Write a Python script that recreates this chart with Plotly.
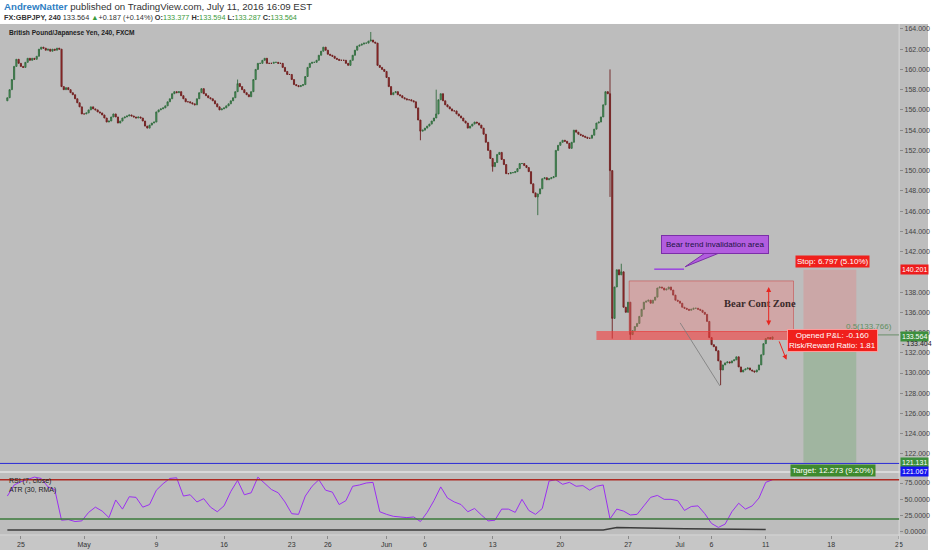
import plotly.graph_objects as go

# GBPJPY 4h closes, one row per trading day (Apr 22 .. Jul 11 2016)
closes = [
    157.2, 158.0, 159.0, 160.3, 161.0, 160.6,
    160.3, 160.2, 160.7, 161.1, 160.9, 161.1,
    161.0, 161.3, 162.0, 162.2, 162.1, 161.9,
    162.0, 161.8, 162.0, 161.9, 162.1, 162.0,
    158.3, 158.0, 158.2, 158.0, 157.7, 157.5,
    157.1, 156.7, 156.3, 155.6, 155.6, 155.7,
    156.0, 156.3, 156.1, 156.0, 155.8, 155.7,
    155.5, 155.2, 154.8, 154.9, 155.3, 155.6,
    155.3, 154.7, 154.9, 155.2, 155.3, 155.4,
    155.5, 155.4, 155.3, 155.2, 155.3, 155.2,
    154.9, 154.4, 154.2, 154.5, 154.7, 154.8,
    155.8, 156.0, 156.1, 156.2, 156.4, 156.8,
    157.1, 157.6, 157.8, 157.7, 157.8, 157.4,
    157.1, 156.8, 156.8, 156.7, 156.6, 156.5,
    157.1, 157.7, 158.1, 157.6, 157.4, 157.2,
    157.1, 156.9, 156.6, 156.3, 156.0, 156.1,
    156.2, 156.4, 156.6, 156.9, 157.2, 157.8,
    158.6, 158.3, 158.0, 157.7, 157.5, 157.3,
    157.8, 159.0, 160.0, 160.6, 160.6, 160.9,
    161.1, 160.6, 160.6, 160.6, 160.7, 160.7,
    160.6, 160.6, 160.2, 159.8, 159.5, 159.5,
    159.0, 158.5, 158.4, 158.3, 158.4, 158.5,
    159.3, 160.2, 160.6, 160.7, 160.7, 160.9,
    161.4, 161.8, 162.2, 161.9, 161.5, 161.4,
    161.3, 161.1, 161.0, 160.9, 160.9, 160.9,
    160.6, 160.4, 160.9, 161.4, 161.9, 162.3,
    162.4, 162.5, 162.6, 162.6, 162.8, 162.9,
    162.7, 162.6, 160.4, 160.2, 160.0, 159.8,
    159.2, 158.3, 157.5, 157.7, 157.8, 157.5,
    157.4, 157.2, 157.1, 157.0, 157.0, 156.9,
    156.8, 156.2, 155.0, 153.9, 154.0, 154.2,
    154.4, 154.6, 154.9, 155.2, 155.6, 157.0,
    157.6, 156.9, 156.5, 156.3, 156.1, 155.9,
    155.9, 155.6, 155.4, 155.2, 154.9, 154.7,
    154.2, 154.4, 154.6, 154.8, 154.7, 154.5,
    154.2, 153.6, 152.8, 152.0, 151.2, 150.4,
    150.8, 151.6, 151.8, 151.1, 150.6, 149.7,
    149.7, 149.8, 149.8, 149.9, 150.2, 150.7,
    150.7, 150.5, 150.3, 149.9, 148.7, 147.8,
    147.4, 147.7, 148.2, 149.2, 149.3, 149.1,
    149.2, 149.3, 149.4, 152.0, 152.5, 152.8,
    153.0, 152.9, 152.7, 152.2, 152.8, 154.0,
    153.8, 153.6, 153.5, 153.4, 153.3, 153.2,
    153.2, 153.5, 154.1, 154.7, 154.8, 155.3,
    156.5, 157.8, 157.6, 150.0, 135.4, 138.5,
    140.2, 139.7, 140.0, 136.5, 136.0, 137.0,
    133.8, 134.2, 134.6, 134.9, 135.6, 136.3,
    137.0, 137.1, 137.2, 136.9, 137.2, 137.5,
    138.4, 138.5, 138.4, 138.2, 138.3, 138.5,
    138.2, 137.7, 137.2, 137.1, 136.9, 136.5,
    136.4, 136.3, 136.2, 136.3, 136.4, 136.4,
    136.3, 136.2, 136.0, 135.8, 135.1, 133.5,
    132.8, 132.6, 132.2, 131.2, 130.3, 130.8,
    131.0, 131.1, 131.0, 131.2, 131.3, 131.6,
    130.6, 130.1, 130.3, 130.4, 130.5, 130.3,
    130.2, 130.1, 130.3, 130.8, 131.8, 132.9,
    133.4, 133.5, 133.377, 133.564,
]
first_open = 156.9

# long wicks visible on the chart, by bar number
wick_highs = {102: 159.0, 161: 163.7, 190: 158.0, 267: 160.0, 272: 140.8, 339: 133.594}
wick_lows = {183: 153.0, 215: 149.9, 235: 145.6, 267: 147.4, 268: 133.4, 276: 133.3,
             316: 128.8, 339: 133.287}

# RSI(7) read every third bar
rsi_values = [
    55, 72, 77, 80, 84, 82, 69, 65, 18, 19,
    16, 17, 30, 38, 32, 22, 49, 35, 54, 53,
    38, 42, 64, 74, 82, 83, 55, 57, 46, 51,
    38, 31, 40, 62, 79, 57, 60, 84, 75, 65,
    60, 46, 28, 27, 55, 70, 80, 64, 61, 42,
    48, 70, 72, 75, 76, 31, 27, 24, 23, 22,
    23, 16, 30, 48, 69, 52, 46, 42, 31, 36,
    26, 17, 18, 35, 35, 30, 50, 33, 27, 36,
    78, 80, 73, 76, 70, 71, 64, 70, 72, 20,
    35, 32, 26, 27, 40, 53, 56, 50, 50, 48,
    33, 39, 40, 28, 13, 7, 12, 31, 44, 35,
    40, 52, 76, 80,
]
# ATR(30) read once per day
atr_values = [
    0.62, 0.62, 0.63, 0.62, 0.64, 0.63, 0.62, 0.61, 0.60, 0.60,
    0.60, 0.60, 0.59, 0.59, 0.60, 0.60, 0.60, 0.61, 0.62, 0.62,
    0.61, 0.61, 0.61, 0.61, 0.60, 0.60, 0.60, 0.62, 0.62, 0.61,
    0.62, 0.62, 0.63, 0.62, 0.62, 0.63, 0.64, 0.64, 0.64, 0.65,
    0.66, 0.66, 0.65, 0.65, 0.66, 1.42, 1.40, 1.33, 1.22, 1.12,
    1.05, 0.98, 0.95, 0.92, 0.86, 0.82, 0.80,
]

tick_bars = [6, 34, 66, 96, 126, 142, 168, 185, 215, 245, 275, 298, 312, 336, 365, 395]
tick_labels = ["25", "May", "9", "16", "23", "26", "Jun", "6", "13", "20", "27",
               "Jul", "6", "11", "18", "25"]
# 140.000 sits under the stop tag on the reference, so it is left out
price_ticks = [122, 124, 126, 128, 130, 132, 134, 136, 138, 142, 144, 146,
               148, 150, 152, 154, 156, 158, 160, 162, 164]
rsi_ticks = [0, 25, 50, 75]

# drawings on the chart
entry_price = 133.404
stop_price = 140.201
target_price = 121.131
blue_level = 121.067
fib_level = 133.766
last_price = 133.564
zone_bars = (275.5, 348.3)
zone_prices = (134.1, 139.1)
strip_bars = (261.0, 348.3)
strip_prices = (133.27, 134.16)
rr_bars = (352.7, 376.1)

FONT = "Liberation Sans"
XR = [-3.26, 395.1]
XD = [0, 0.9689]

bars = list(range(len(closes)))
opens = [first_open] + closes[:-1]
highs, lows = [], []
for i in bars:
    hi = max(opens[i], closes[i])
    lo = min(opens[i], closes[i])
    highs.append(max(hi, wick_highs.get(i, hi)))
    lows.append(min(lo, wick_lows.get(i, lo)))

candles = go.Candlestick(
    x=bars, open=opens, high=highs, low=lows, close=closes,
    increasing=dict(line=dict(color="#336b40", width=0.9), fillcolor="#4fa262"),
    decreasing=dict(line=dict(color="#6e2020", width=0.9), fillcolor="#a82c2c"),
    hoverinfo="skip", showlegend=False, xaxis="x", yaxis="y")

rsi_line = go.Scatter(x=[3 * j for j in range(len(rsi_values))], y=rsi_values,
                      mode="lines", line=dict(color="#9b30f0", width=1),
                      hoverinfo="skip", showlegend=False, xaxis="x2", yaxis="y2")
atr_line = go.Scatter(x=[6 * j for j in range(len(atr_values))], y=atr_values,
                      mode="lines", line=dict(color="#3c3c3c", width=1.5),
                      hoverinfo="skip", showlegend=False, xaxis="x2", yaxis="y3")

fig = go.Figure(data=[candles, rsi_line, atr_line])

shapes = [
    # chart background behind the axes
    dict(type="rect", xref="paper", yref="paper", x0=0, x1=1, y0=0, y1=0.9564,
         fillcolor="#bdbdbd", line_width=0, layer="below"),
    dict(type="rect", xref="paper", yref="paper", x0=0, x1=1, y0=0, y1=0.027,
         fillcolor="#c6c6c6", line_width=0, layer="below"),
    dict(type="line", xref="paper", yref="paper", x0=0, x1=1, y0=0.1418, y1=0.1418,
         line=dict(color="#d9d9d9", width=2)),
    dict(type="line", xref="paper", yref="paper", x0=0, x1=1, y0=0.0273, y1=0.0273,
         line=dict(color="#d9d9d9", width=1)),
    dict(type="line", xref="paper", yref="paper", x0=0.9689, x1=0.9689, y0=0, y1=0.9564,
         line=dict(color="#d9d9d9", width=1)),
    # bear continuation zone
    dict(type="rect", xref="x", yref="y", x0=zone_bars[0], x1=zone_bars[1],
         y0=zone_prices[0], y1=zone_prices[1], fillcolor="rgba(250,120,120,0.33)",
         line=dict(color="rgba(200,70,70,0.55)", width=1), layer="above"),
    dict(type="rect", xref="x", yref="y", x0=strip_bars[0], x1=strip_bars[1],
         y0=strip_prices[0], y1=strip_prices[1], fillcolor="rgba(245,60,60,0.6)",
         line_width=0, layer="above"),
    # risk / reward tool
    dict(type="rect", xref="x", yref="y", x0=rr_bars[0], x1=rr_bars[1],
         y0=entry_price, y1=stop_price, fillcolor="rgba(240,110,110,0.28)",
         line_width=0, layer="above"),
    dict(type="rect", xref="x", yref="y", x0=rr_bars[0], x1=rr_bars[1],
         y0=target_price, y1=entry_price, fillcolor="rgba(70,160,70,0.24)",
         line_width=0, layer="above"),
    # blue horizontal level
    dict(type="line", xref="paper", yref="y", x0=0, x1=0.9689, y0=blue_level, y1=blue_level,
         line=dict(color="#2b2bd6", width=1)),
    # fib level
    dict(type="line", xref="x", yref="y", x0=376, x1=XR[1], y0=fib_level, y1=fib_level,
         line=dict(color="#6a8f6a", width=1)),
    # trend line
    dict(type="line", xref="x", yref="y", x0=298.1, x1=315.7, y0=134.95, y1=128.72,
         line=dict(color="#7a7a7a", width=0.8)),
    # invalidation level and callout pointer
    dict(type="line", xref="x", yref="y", x0=286.6, x1=299.8, y0=140.26, y1=140.26,
         line=dict(color="#9a44e0", width=1.5)),
    dict(type="path", xref="x", yref="y", path="M 309.1 141.85 L 315.3 141.85 L 300.3 140.5 Z",
         fillcolor="#b25ddf", line=dict(color="#7b2fa8", width=1)),
    # RSI bands
    dict(type="line", xref="paper", yref="y2", x0=0, x1=0.9689, y0=80, y1=80,
         line=dict(color="#ad2a22", width=1.5)),
    dict(type="line", xref="paper", yref="y2", x0=0, x1=0.9689, y0=20, y1=20,
         line=dict(color="#3b7b3b", width=1.5)),
]

green = "#3a9a3a"
annotations = [
    dict(xref="paper", yref="paper", x=0.002, y=0.989, xanchor="left", yanchor="middle",
         showarrow=False, font=dict(family=FONT, size=9.7, color="#333"),
         text="<span style='color:#2f80c4'><b>AndrewNatter</b></span> published on "
              "TradingView.com, July 11, 2016 16:09 EST"),
    dict(xref="paper", yref="paper", x=0.002, y=0.969, xanchor="left", yanchor="middle",
         showarrow=False, font=dict(family=FONT, size=7.3, color="#333"),
         text="<b>FX:GBPJPY, 240</b> 133.564 <span style='color:%s'>▲</span>+0.187 (+0.14%%) "
              "<b>O:</b><span style='color:%s'>133.377</span> <b>H:</b><span style='color:%s'>133.594</span> "
              "<b>L:</b><span style='color:%s'>133.287</span> <b>C:</b><span style='color:%s'>133.564</span>"
              % (green, green, green, green, green)),
    dict(xref="paper", yref="paper", x=0.008, y=0.94, xanchor="left", yanchor="middle",
         showarrow=False, font=dict(family=FONT, size=6.6, color="#222"),
         text="<b>British Pound/Japanese Yen, 240, FXCM</b>"),
    dict(xref="paper", yref="paper", x=0.008, y=0.1255, xanchor="left", yanchor="middle",
         showarrow=False, font=dict(family=FONT, size=7, color="#222"), text="RSI (7, close)"),
    dict(xref="paper", yref="paper", x=0.008, y=0.109, xanchor="left", yanchor="middle",
         showarrow=False, font=dict(family=FONT, size=7, color="#222"), text="ATR (30, RMA)"),
    # zone text and arrows
    dict(xref="x", yref="y", x=333.5, y=136.9, showarrow=False,
         font=dict(family="Liberation Serif", size=10.5, color="#3a2a2a"),
         text="<b>Bear Cont Zone</b>"),
    dict(xref="x", yref="y", x=337.3, y=138.5, axref="x", ayref="y", ax=337.3, ay=134.55,
         showarrow=True, arrowhead=2, arrowside="end+start", arrowsize=1, arrowwidth=1,
         arrowcolor="#e8251f", text=""),
    dict(xref="x", yref="y", x=345.2, y=131.3, axref="x", ayref="y", ax=341.7, ay=133.27,
         showarrow=True, arrowhead=2, arrowsize=1, arrowwidth=1, arrowcolor="#e8251f", text=""),
    # callout
    dict(xref="x", yref="y", x=313.3, y=142.72, showarrow=False,
         font=dict(family=FONT, size=8, color="#1d1446"),
         text="Bear trend invalidation area", bgcolor="#b25ddf", bordercolor="#7b2fa8",
         borderwidth=1, borderpad=4),
    # risk / reward labels
    dict(xref="x", yref="y", x=365.6, y=stop_price, yanchor="bottom", yshift=2,
         showarrow=False, font=dict(family=FONT, size=8, color="white"),
         text="Stop: 6.797 (5.10%)", bgcolor="#f0201c", borderpad=1),
    dict(xref="x", yref="y", x=365.6, y=133.17, showarrow=False,
         font=dict(family=FONT, size=8, color="white"),
         text="Opened P&amp;L: -0.160<br>Risk/Reward Ratio: 1.81", bgcolor="#f0201c",
         bordercolor="#ff9a9a", borderwidth=1, borderpad=1),
    dict(xref="x", yref="y", x=365.6, y=target_price, yanchor="top", yshift=-1,
         showarrow=False, font=dict(family=FONT, size=8, color="white"),
         text="Target: 12.273 (9.20%)", bgcolor="#3e8a2e", borderpad=1),
    dict(xref="paper", yref="y", x=0.963, y=fib_level, xanchor="right", yanchor="bottom",
         yshift=2, showarrow=False, font=dict(family=FONT, size=8, color="#5f8f5f"),
         text="0.5(133.766)"),
]

# price tags on the axis
tags = [(stop_price, "140.201", "#ee1c1c", 0), (last_price, "133.564", "#3d8f3d", 0),
        (target_price, "121.131", "#3d8f3d", 0), (blue_level, "121.067", "#1515ee", -8)]
for price, label, color, shift in tags:
    annotations.append(dict(xref="paper", yref="y", x=0.9695, y=price, xanchor="left",
                            yshift=shift, showarrow=False, bgcolor=color, borderpad=1,
                            font=dict(family=FONT, size=7, color="white"), text=label))
annotations.append(dict(xref="paper", yref="y", x=0.9695, y=entry_price, xanchor="left",
                        yshift=-5, showarrow=False,
                        font=dict(family=FONT, size=7, color="#222"), text="- 133.404"))

fig.update_layout(
    width=932, height=550,
    margin=dict(l=0, r=0, t=0, b=0),
    paper_bgcolor="white", plot_bgcolor="#b3b3b3",
    font=dict(family=FONT),
    shapes=shapes, annotations=annotations,
    xaxis=dict(domain=XD, range=XR, anchor="y", showticklabels=False, showgrid=False,
               zeroline=False, showline=False, rangeslider=dict(visible=False)),
    yaxis=dict(domain=[0.1455, 0.9564], range=[120.42, 164.49], side="right", anchor="x",
               tickvals=price_ticks, ticktext=["%.3f" % p for p in price_ticks],
               tickfont=dict(size=7, color="#444"), ticks="outside", ticklen=3,
               tickcolor="#8a8a8a", showgrid=False, zeroline=False),
    xaxis2=dict(domain=XD, range=XR, anchor="y2", tickvals=tick_bars, ticktext=tick_labels,
                tickfont=dict(size=7, color="#333"), ticks="outside", ticklen=3,
                tickcolor="#8a8a8a", showgrid=False, zeroline=False),
    yaxis2=dict(domain=[0.0273, 0.1382], range=[-4.6, 88.8], side="right", anchor="x2",
                tickvals=rsi_ticks, ticktext=["%.4f" % v for v in rsi_ticks],
                tickfont=dict(size=7, color="#444"), ticks="outside", ticklen=3,
                tickcolor="#8a8a8a", showgrid=False, zeroline=False),
    yaxis3=dict(overlaying="y2", range=[-0.9, 18], visible=False, anchor="x2"),
)

fig.write_html("out.html", config={"displayModeBar": False},
               post_script="document.body.style.margin='0';document.body.style.overflow='hidden';")
